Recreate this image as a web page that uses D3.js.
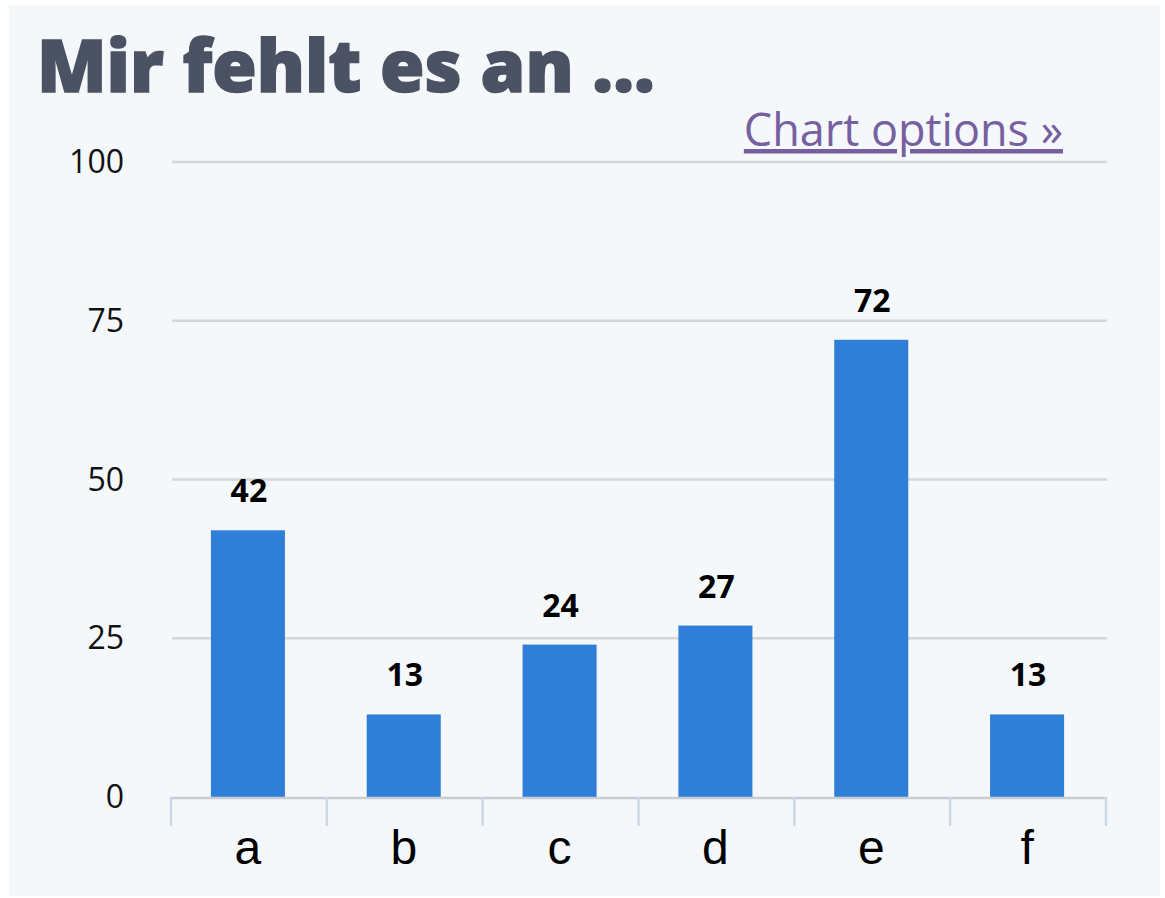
<!DOCTYPE html>
<html>
<head>
<meta charset="utf-8">
<script src="https://cdn.jsdelivr.net/npm/d3@7"></script>
<style>
  body { margin: 0; background: #ffffff; }
  svg { display: block; }
</style>
</head>
<body>
<script>
// chart data
var categories = ["a", "b", "c", "d", "e", "f"]
var values = [42, 13, 24, 27, 72, 13]
var yTicks = [0, 25, 50, 75, 100]
var title = "Mir fehlt es an ..."
var linkText = "Chart options »"

// size
var w = 1165
var h = 898

var svg = d3.select("body")
			.append("svg")
			.attr("width", w)
			.attr("height", h)

// panel
svg.append("rect")
	.attr("x", 9)
	.attr("y", 5)
	.attr("width", 1151)
	.attr("height", 891)
	.attr("fill", "#f5f8fb")

// title
svg.append("text")
	.attr("x", 37)
	.attr("y", 92)
	.attr("font-family", "Open Sans")
	.attr("font-weight", 800)
	.attr("font-size", 72)
	.attr("fill", "#4a5264")
	.attr("stroke", "#4a5264")
	.attr("stroke-width", 1.5)
	.text(title)

// link
svg.append("text")
	.attr("x", 1063)
	.attr("y", 146)
	.attr("text-anchor", "end")
	.attr("font-family", "Open Sans")
	.attr("font-size", 45)
	.attr("fill", "#76609f")
	.attr("text-decoration", "underline")
	.text(linkText)

// scales
var plotLeft = 170
var plotRight = 1105
var plotTop = 162
var plotBottom = 797

var xScale = d3.scaleBand()
				.domain(categories)
				.range([plotLeft, plotRight])
				.paddingInner(0)
				.paddingOuter(0)

var yScale = d3.scaleLinear()
				.domain([0, 100])
				.range([plotBottom, plotTop])

// gridlines
svg.selectAll("line.grid")
	.data(yTicks.filter(function(d){ return d > 0 }))
	.enter()
	.append("line")
	.attr("class", "grid")
	.attr("x1", plotLeft + 2)
	.attr("x2", plotRight + 2)
	.attr("y1", function(d){ return yScale(d) })
	.attr("y2", function(d){ return yScale(d) })
	.attr("stroke", "#d6d6d6")
	.attr("stroke-width", 2.5)

// y labels
svg.selectAll("text.ylab")
	.data(yTicks)
	.enter()
	.append("text")
	.attr("class", "ylab")
	.attr("x", 124)
	.attr("y", function(d){ return yScale(d) + 11 })
	.attr("text-anchor", "end")
	.attr("font-family", "Open Sans")
	.attr("font-size", 32)
	.attr("fill", "#111")
	.text(function(d){ return d })

// bars
var barW = xScale.bandwidth() * 0.475

svg.selectAll("rect.bar")
	.data(values)
	.enter()
	.append("rect")
	.attr("class", "bar")
	.attr("x", function(d, i){ return xScale(categories[i]) + xScale.bandwidth() / 2 - barW / 2 })
	.attr("y", function(d){ return yScale(d) })
	.attr("width", barW)
	.attr("height", function(d){ return plotBottom - yScale(d) })
	.attr("fill", "#2f7ed8")

// value labels
svg.selectAll("text.val")
	.data(values)
	.enter()
	.append("text")
	.attr("class", "val")
	.attr("x", function(d, i){ return xScale(categories[i]) + xScale.bandwidth() / 2 + 1 })
	.attr("y", function(d){ return yScale(d) - 28 })
	.attr("text-anchor", "middle")
	.attr("font-family", "Open Sans")
	.attr("font-weight", 700)
	.attr("font-size", 32)
	.attr("fill", "#000")
	.text(function(d){ return d })

// x axis line
svg.append("line")
	.attr("x1", plotLeft)
	.attr("x2", plotRight + 2)
	.attr("y1", plotBottom + 1)
	.attr("y2", plotBottom + 1)
	.attr("stroke", "#c8cdd3")
	.attr("stroke-width", 2.5)

// x ticks (band edges)
var edges = categories.map(function(c){ return xScale(c) }).concat([plotRight])

svg.selectAll("line.tick")
	.data(edges)
	.enter()
	.append("line")
	.attr("class", "tick")
	.attr("x1", function(d){ return d + 1 })
	.attr("x2", function(d){ return d + 1 })
	.attr("y1", plotBottom)
	.attr("y2", plotBottom + 29)
	.attr("stroke", "#cdd8e6")
	.attr("stroke-width", 2.5)

// category labels
svg.selectAll("text.xlab")
	.data(categories)
	.enter()
	.append("text")
	.attr("class", "xlab")
	.attr("x", function(d){ return xScale(d) + xScale.bandwidth() / 2 })
	.attr("y", 864)
	.attr("text-anchor", "middle")
	.attr("font-family", "Liberation Sans")
	.attr("font-size", 48)
	.attr("fill", "#000")
	.text(function(d){ return d })
</script>
</body>
</html>
